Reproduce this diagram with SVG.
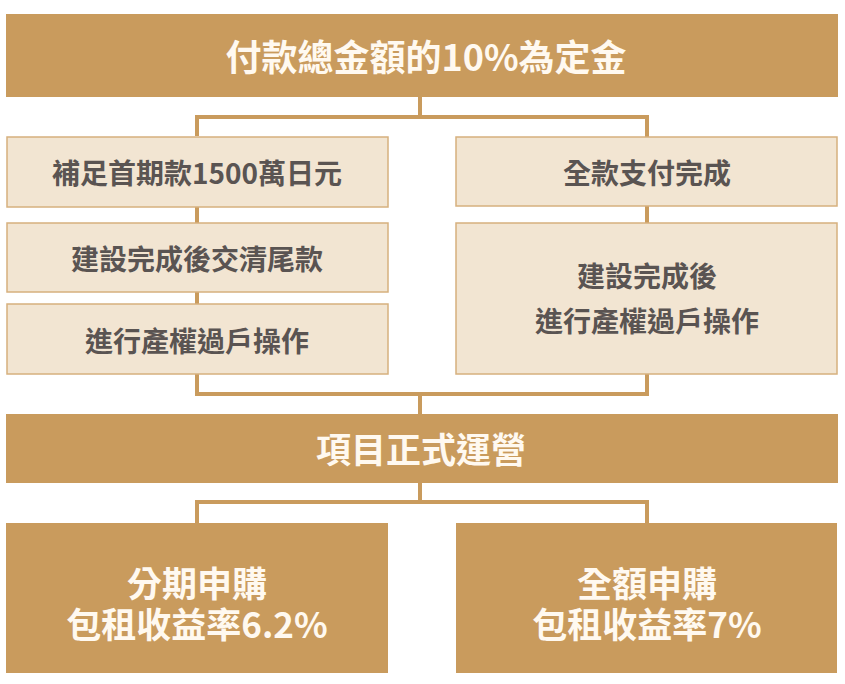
<svg xmlns="http://www.w3.org/2000/svg" width="845" height="684" viewBox="0 0 845 684">
<style>
.dark{fill:#C99B5D;}
.light{fill:#F2E5D2;stroke:#D6B07E;stroke-width:1.5;}
.conn{fill:none;stroke:#C99B5D;stroke-width:4;}
text{font-family:"Noto Sans CJK TC","Noto Sans CJK SC",sans-serif;font-weight:bold;text-anchor:middle;dominant-baseline:central;}
.wt{fill:#FFF9F0;font-size:35px;}
.gt{fill:#5A5452;font-size:28px;}
</style>
<rect width="845" height="684" fill="#FFFFFF"/>
<g id="connectors">
<path class="conn" d="M420,97 V117 M197,136 V117 H647 V137"/>
<path class="conn" d="M197,207 V223 M197,292 V304"/>
<path class="conn" d="M647,206 V223"/>
<path class="conn" d="M197,374 V394 H647 V374 M420,394 V414"/>
<path class="conn" d="M420,483 V502 M197,523 V502 H647 V523"/>
</g>
<g id="n-deposit">
<rect class="dark" x="6" y="14" width="832" height="83"/>
<text class="wt" x="426" y="55" style="font-size:36px">付款總金額的10%為定金</text>
</g>
<g id="n-l1">
<rect class="light" x="7" y="137" width="381" height="70"/>
<text class="gt" x="197" y="172">補足首期款1500萬日元</text>
</g>
<g id="n-l2">
<rect class="light" x="7" y="223" width="381" height="69"/>
<text class="gt" x="197" y="258">建設完成後交清尾款</text>
</g>
<g id="n-l3">
<rect class="light" x="7" y="304" width="381" height="70"/>
<text class="gt" x="197" y="340">進行產權過戶操作</text>
</g>
<g id="n-r1">
<rect class="light" x="456" y="137" width="381" height="69"/>
<text class="gt" x="647" y="172">全款支付完成</text>
</g>
<g id="n-r2">
<rect class="light" x="456" y="223" width="381" height="151"/>
<text class="gt" x="647" y="275">建設完成後</text>
<text class="gt" x="647" y="320">進行產權過戶操作</text>
</g>
<g id="n-operate">
<rect class="dark" x="6" y="414" width="832" height="69"/>
<text class="wt" x="421" y="447">項目正式運營</text>
</g>
<g id="n-b1">
<rect class="dark" x="6" y="523" width="382" height="150"/>
<text class="wt" x="197" y="581">分期申購</text>
<text class="wt" x="197" y="622">包租收益率6.2%</text>
</g>
<g id="n-b2">
<rect class="dark" x="456" y="523" width="381" height="150"/>
<text class="wt" x="647" y="581">全額申購</text>
<text class="wt" x="647" y="622">包租收益率7%</text>
</g>
</svg>
